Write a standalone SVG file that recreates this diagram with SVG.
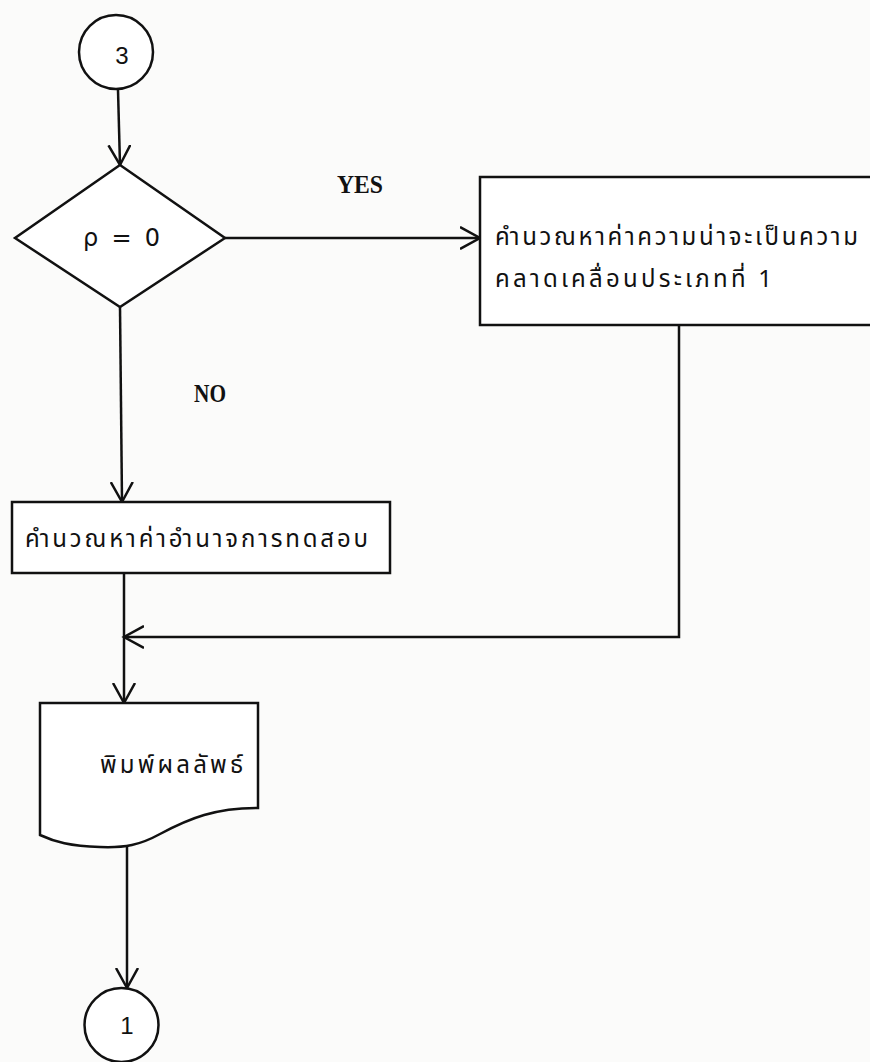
<svg xmlns="http://www.w3.org/2000/svg" width="870" height="1062" viewBox="0 0 870 1062">
<style>
.s{fill:none;stroke:#111;stroke-width:2.5;stroke-linejoin:miter}
.n{fill:#fff;stroke:#111;stroke-width:2.5}
.th{font-family:"Noto Sans Thai","Noto Sans","DejaVu Sans",sans-serif;font-size:24px;fill:#111}
.m{font-family:"Liberation Serif",serif;font-size:25px;font-weight:bold;fill:#111}
.c{font-family:"Liberation Sans",sans-serif;font-size:24px;fill:#111;text-anchor:middle}
</style>
<defs>
<marker id="a" viewBox="0 0 24 24" refX="20" refY="12" markerWidth="24" markerHeight="24" markerUnits="userSpaceOnUse" orient="auto">
<path d="M0,1 L20,12 L0,23" fill="none" stroke="#111" stroke-width="2.5"/>
</marker>
</defs>
<rect width="870" height="1062" fill="#fbfbfa"/>
<g id="connectors">
<line class="s" x1="118" y1="90" x2="120" y2="165" marker-end="url(#a)"/>
<line class="s" x1="225" y1="238" x2="480" y2="238" marker-end="url(#a)"/>
<line class="s" x1="120" y1="307" x2="122" y2="502" marker-end="url(#a)"/>
<polyline class="s" points="679,325 679,637 124,637" marker-end="url(#a)"/>
<line class="s" x1="124" y1="573" x2="124" y2="703" marker-end="url(#a)"/>
<line class="s" x1="127" y1="846" x2="127" y2="988" marker-end="url(#a)"/>
</g>
<g id="connector-labels">
<text class="m" x="337" y="193" textLength="46" lengthAdjust="spacingAndGlyphs">YES</text>
<text class="m" x="194" y="402" textLength="32" lengthAdjust="spacingAndGlyphs">NO</text>
</g>
<g id="start3">
<circle class="n" cx="116" cy="52" r="37"/>
<text class="c" x="122" y="64">3</text>
</g>
<g id="decision">
<polygon class="n" points="120,165 225,238 120,307 15,238"/>
<text x="83" y="246" textLength="77" lengthAdjust="spacing" style="font-family:'DejaVu Sans',sans-serif;font-size:24px;fill:#111">ρ = 0</text>
</g>
<g id="box-type1">
<rect class="n" x="480" y="177" width="400" height="148"/>
<text class="th" x="495" y="245" textLength="363" lengthAdjust="spacing">คำนวณหาค่าความน่าจะเป็นความ</text>
<text class="th" x="495" y="287" textLength="277" lengthAdjust="spacing">คลาดเคลื่อนประเภทที่ 1</text>
</g>
<g id="box-power">
<rect class="n" x="12" y="502" width="378" height="71"/>
<text class="th" x="25" y="547" textLength="343" lengthAdjust="spacing">คำนวณหาค่าอำนาจการทดสอบ</text>
</g>
<g id="document">
<path class="n" d="M40,703 L258,703 L258,808 C215,808 190,818 160,834 C140,845 125,848 100,847 C70,846 55,842 40,835 Z"/>
<text class="th" x="100" y="773" textLength="143" lengthAdjust="spacing">พิมพ์ผลลัพธ์</text>
</g>
<g id="end1">
<circle class="n" cx="121.5" cy="1025" r="37"/>
<text class="c" x="127" y="1034">1</text>
</g>
</svg>
